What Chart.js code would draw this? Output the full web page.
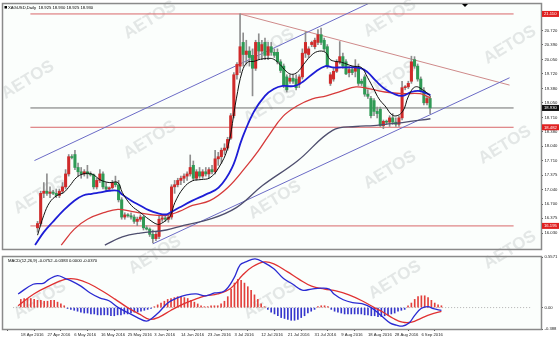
<!DOCTYPE html>
<html><head><meta charset="utf-8">
<script src="https://cdn.jsdelivr.net/npm/chart.js@4.4.1/dist/chart.umd.min.js"></script>
<style>
html,body{margin:0;padding:0;background:#fff;}
#wrap{position:relative;width:560px;height:340px;overflow:hidden;background:#fff;}
canvas{position:absolute;left:0;}
</style></head><body>
<div id="wrap">
<canvas id="main" width="560" height="253" style="top:0;width:560px;height:253px"></canvas>
<canvas id="macd" width="560" height="87" style="top:253px;width:560px;height:87px"></canvas>
</div>
<script>
// XAGUSD daily candles, bar index 0 = 18 Apr 2016
var opens  = [16.15,16.25,16.95,17.00,16.95,16.98,16.95,16.90,17.00,17.10,17.40,17.80,17.85,17.55,17.45,17.40,17.45,17.40,17.38,17.10,
              17.25,17.40,17.10,17.05,17.08,17.20,17.15,16.80,16.40,16.45,16.43,16.40,16.30,16.35,16.40,16.15,16.12,16.00,15.90,15.95,
              16.35,16.38,16.35,16.40,17.10,17.15,17.25,17.30,17.35,17.40,17.60,17.30,17.45,17.35,17.45,17.40,17.50,17.45,17.75,17.80,
              17.95,18.00,18.23,18.75,19.70,19.90,20.45,20.17,20.25,20.15,19.85,20.45,20.25,20.45,20.15,20.35,20.22,20.22,20.00,19.90,
              19.65,19.55,19.62,19.60,19.48,19.65,20.20,20.17,20.40,20.35,20.45,20.63,20.50,20.35,19.50,19.60,19.78,20.00,20.12,20.00,
              19.75,19.82,19.78,19.85,19.55,19.65,19.25,19.15,19.10,18.85,18.90,18.52,18.62,18.60,18.70,18.60,18.55,18.70,19.40,19.42,
              19.55,20.05,19.90,19.60,19.33,19.05,19.15];
var highs  = [16.30,17.00,17.20,17.40,17.10,17.02,17.05,17.05,17.20,17.50,17.85,17.85,17.95,17.65,17.55,17.50,17.60,17.45,17.40,17.30,
              17.50,17.45,17.20,17.10,17.25,17.35,17.25,16.85,16.50,16.48,16.50,16.45,16.40,16.45,16.42,16.20,16.15,16.10,16.05,16.42,
              16.45,16.45,16.45,17.15,17.25,17.30,17.35,17.40,17.45,17.84,17.70,17.50,17.55,17.50,17.55,17.55,17.60,17.95,17.90,18.00,
              18.10,18.25,18.80,19.75,19.98,21.11,20.67,20.50,20.35,20.30,20.50,20.65,20.50,20.55,20.45,20.45,20.30,20.30,20.05,19.95,
              19.70,19.70,19.70,19.70,19.70,20.30,20.70,20.35,20.48,20.55,20.75,20.78,20.55,20.40,19.75,19.85,20.05,20.47,20.20,20.05,
              19.90,19.90,20.05,19.95,19.60,19.70,19.35,19.20,19.15,18.95,18.95,18.65,18.65,18.75,18.80,18.70,18.75,19.55,19.45,19.55,
              20.13,20.12,19.95,19.65,19.40,19.20,19.20];
var lows   = [16.05,16.20,16.85,16.90,16.85,16.92,16.85,16.85,16.95,17.05,17.35,17.75,17.50,17.35,17.30,17.35,17.30,17.35,17.05,17.05,
              17.20,17.05,17.00,17.02,17.05,17.10,16.75,16.35,16.35,16.40,16.35,16.25,16.20,16.30,16.10,16.10,15.95,15.80,15.85,15.90,
              16.30,16.30,16.28,16.35,16.95,17.10,17.15,17.20,17.25,17.35,17.25,17.25,17.30,17.30,17.35,17.30,17.40,17.40,17.60,17.65,
              17.85,17.95,18.20,18.70,19.60,19.75,19.90,19.95,19.90,19.21,19.80,20.05,20.05,20.05,20.05,20.15,20.10,19.95,19.75,19.40,
              19.30,19.50,19.50,19.35,19.40,19.60,20.10,20.10,20.35,20.30,20.40,20.40,20.25,19.85,19.45,19.55,19.75,19.95,19.85,19.70,
              19.65,19.70,19.65,19.45,19.45,19.20,19.15,18.70,18.75,18.70,18.50,18.45,18.55,18.50,18.55,18.50,18.50,18.65,19.35,19.38,
              19.50,19.85,19.55,19.30,19.00,19.00,18.80];
var closes = [16.25,16.95,17.00,16.95,16.98,16.95,16.90,17.00,17.10,17.40,17.80,17.78,17.55,17.45,17.40,17.45,17.40,17.38,17.10,17.25,
              17.40,17.10,17.05,17.08,17.20,17.15,16.80,16.40,16.45,16.43,16.40,16.30,16.35,16.40,16.15,16.12,16.00,15.90,16.00,16.35,
              16.38,16.35,16.40,17.10,17.15,17.25,17.30,17.35,17.40,17.55,17.30,17.45,17.35,17.45,17.40,17.50,17.45,17.75,17.80,17.95,
              18.00,18.20,18.75,19.70,19.94,20.35,20.17,20.25,20.10,19.85,20.45,20.25,20.40,20.15,20.35,20.22,20.15,20.00,19.80,19.45,
              19.35,19.62,19.55,19.40,19.65,20.20,20.45,20.30,20.45,20.50,20.63,20.45,20.30,19.90,19.70,19.78,20.00,20.12,19.90,19.72,
              19.82,19.75,19.85,19.50,19.50,19.25,19.20,18.75,18.85,18.80,18.52,18.62,18.60,18.70,18.60,18.55,18.70,19.40,19.42,19.50,
              20.00,19.90,19.60,19.33,19.05,19.15,18.93];

// moving averages: [bar index, price]
var maBlackIdx = [0,2,3.9,6.2,8.4,10.4,12.4,14.6,17.4,20.2,23,25.8,27.2,30.1,32.9,35.7,38.5,39.9,41.3,42.7,44.1,46.9,49.7,52.5,55.3,58.1,61,63.8,65.7,67.4,69.4,71.6,74.2,75.8,77.8,79.8,81.5,83.4,85.4,87.6,89.9,92.4,93.8,95.5,97.5,101.1,103.9,105.9,107.9,109.6,111.5,114.3,117.1,119.1,121.3,124.2,126.1];
var maBlack    = [15.98,16.44,16.74,16.90,16.97,17.13,17.31,17.40,17.40,17.26,17.20,17.20,16.97,16.67,16.51,16.35,16.23,16.26,16.33,16.44,16.74,17.08,17.24,17.27,17.31,17.54,18.00,19.14,19.78,19.99,20.01,20.06,20.08,20.06,19.94,19.78,19.71,19.76,19.94,20.13,20.24,20.22,20.06,20.01,19.99,19.90,19.87,19.64,19.37,19.14,18.98,18.75,18.84,19.21,19.42,19.32,19.21];
var maBlueIdx  = [-0.8,2,4.8,8.4,11.8,14.6,17.4,20.2,23,25.8,27.2,30.1,32.9,35.7,38.5,41.3,42.7,45.5,49.7,53.9,58.1,62.4,65.7,69.4,73,75.8,78.7,82.6,85.4,89,92.4,94.7,97.5,100.3,103.9,105.9,108.7,111.5,114.3,117.1,119.9,122.8,126.1];
var maBlue     = [15.75,16.05,16.28,16.56,16.78,16.90,16.94,16.97,17.01,17.01,16.92,16.78,16.67,16.56,16.49,16.46,16.51,16.62,16.78,16.92,17.08,17.54,18.23,18.84,19.21,19.37,19.44,19.44,19.55,19.76,19.90,19.87,19.87,19.87,19.85,19.76,19.55,19.37,19.26,19.21,19.30,19.32,19.23];
var maRedIdx   = [7.6,11.8,16,21.6,25.8,30.1,35.7,41.3,45.5,49.7,55.3,61,66.6,70.8,74.2,78.7,83.4,88.2,92.7,97.5,102.2,106.7,111.5,117.1,122.8,126.1];
var maRed      = [15.75,16.12,16.35,16.51,16.58,16.53,16.46,16.44,16.53,16.67,16.78,17.08,17.54,17.93,18.29,18.73,18.98,19.14,19.21,19.32,19.42,19.37,19.30,19.26,19.26,19.16];
var maGrayIdx  = [21.6,27.2,32.9,41.3,46.9,55.3,63.8,72.2,83.4,94.7,102.2,107.9,111.5,117.1,126.1];
var maGray     = [15.75,15.94,16.03,16.10,16.21,16.35,16.62,17.13,17.70,18.41,18.50,18.52,18.55,18.59,18.68];

// drawn objects: [bar index, price]
var chanUpper = [[-1,17.71],[110,21.48]];
var chanLower = [[37,15.78],[151.5,19.63]];
var resistLine = [[65,21.11],[151.5,19.46]];
var redLevels = [21.110, 18.482, 16.195];
var bidPrice = 18.930;

// price axis ticks
var priceTicks = [20.720,20.390,20.050,19.720,19.380,19.050,18.710,18.380,18.040,17.710,17.375,17.040,16.700,16.375,16.030];

// date axis
var dateIdx = [0,8,16,24,32,40,48,56,64,72,80,88,96,104,112,120];
var dateLabels = ['18 Apr 2016','27 Apr 2016','6 May 2016','16 May 2016','25 May 2016','3 Jun 2016','14 Jun 2016','23 Jun 2016',
                  '3 Jul 2016','12 Jul 2016','21 Jul 2016','31 Jul 2016','9 Aug 2016','18 Aug 2016','28 Aug 2016','6 Sep 2016'];

// MACD(12,26,9)
var macdIdx = [-0.8,3.7,6.7,8.4,11,13.2,15.4,18,20.8,23.6,26.4,29.2,32,34.8,37.6,39.3,41.3,44.1,46.9,49.7,52.5,55.3,58.1,61,63.8,65.7,67.4,70.2,73,75.8,78.7,81.5,84.3,87.1,89.9,92.4,93.8,96.6,99.4,102.2,105,107.9,110.7,112.5,114.3,116.3,118,119.9,121.9,123.6,126];
var macdVal = [0.150,0.257,0.268,0.311,0.353,0.321,0.289,0.236,0.161,0.107,0.075,0,-0.054,-0.107,-0.150,-0.118,-0.054,0.054,0.107,0.139,0.150,0.129,0.161,0.182,0.321,0.471,0.503,0.536,0.493,0.428,0.321,0.257,0.193,0.204,0.214,0.204,0.150,0.086,0.054,0.043,0,-0.086,-0.171,-0.193,-0.204,-0.171,-0.086,-0.011,0.011,-0.011,-0.032];
var signalIdx = [-0.8,3.9,8.4,13.2,16.9,20.8,24.4,28.1,32,35.7,38.5,41.3,44.9,48.9,52.5,55.3,59,62.9,66.6,69.4,73,75.8,79.8,83.4,87.1,91,94.7,98.3,102.2,105.9,108.7,111.5,114.3,117.1,119.9,122.8,126];
var signalVal = [0.021,0.150,0.236,0.311,0.311,0.257,0.182,0.096,0,-0.075,-0.129,-0.107,-0.032,0.043,0.096,0.129,0.150,0.214,0.364,0.450,0.503,0.482,0.396,0.311,0.236,0.204,0.182,0.139,0.075,0,-0.054,-0.118,-0.161,-0.161,-0.118,-0.075,-0.043];
var histVal = [0.09,0.10,0.10,0.10,0.09,0.08,0.08,0.07,0.07,0.08,0.08,0.06,0.04,0.02,
  -0.01,-0.02,-0.03,-0.04,-0.05,-0.06,-0.06,-0.07,-0.07,-0.08,-0.08,-0.08,-0.08,-0.09,-0.09,-0.08,-0.08,-0.07,-0.07,-0.06,-0.05,-0.05,-0.04,-0.03,-0.02,
  -0.01,0.01,
  0.03,0.05,0.07,0.09,0.10,0.11,0.12,0.12,0.11,0.10,0.08,0.06,0.04,0.02,
  0.01,0.01,0.02,0.02,0.02,0.04,
  0.07,0.12,0.20,0.27,0.31,0.30,0.27,0.23,0.19,0.14,0.09,0.04,
  0.01,
  -0.02,-0.05,-0.07,-0.09,-0.11,-0.12,-0.13,-0.14,-0.14,-0.13,-0.11,-0.09,-0.06,-0.04,-0.02,
  0.01,0.02,0.02,0.01,
  -0.02,-0.04,-0.05,-0.06,-0.07,-0.07,-0.07,-0.07,-0.07,-0.07,-0.08,-0.08,-0.09,-0.09,-0.10,-0.10,-0.09,-0.08,-0.07,-0.06,-0.04,-0.03,-0.02,
  0.02,0.05,0.09,0.12,0.13,0.13,0.11,0.08,0.05,0.03,0.02];
var macdTop = 0.5571, macdBottom = -0.236;

var xMin = -0.3, xMax = 150.8;
var UP = '#d02a2a', DOWN = '#2f9a55';
var FONT = {family: 'Liberation Sans, Arial, sans-serif', size: 4.2};

function pts(ix, vals) { return ix.map(function (x, k) { return {x: x, y: vals[k]}; }); }
function seg(p) { return p.map(function (q) { return {x: q[0], y: q[1]}; }); }

var wickData = highs.map(function (h, i) { return {x: i, y: [lows[i], h]}; });
var bodyData = opens.map(function (o, i) { return {x: i, y: [o, closes[i]]}; });
var bodyCol = opens.map(function (o, i) { return closes[i] >= o ? UP : DOWN; });

var wmarks = [[28,80],[150,20],[268,48],[390,18],[510,45],[150,140],[270,105],[390,80],[505,145],[40,195],[155,255],[275,200],[390,170],[510,250],[40,300],[270,300],[395,280]];
var watermark = {
  id: 'watermark',
  beforeDatasetsDraw: function (chart, args, opt) {
    var ctx = chart.ctx;
    ctx.save();
    ctx.font = 'bold 17px "Liberation Sans", Arial, sans-serif';
    ctx.fillStyle = 'rgba(190,195,195,0.38)';
    ctx.textAlign = 'center'; ctx.textBaseline = 'middle';
    wmarks.forEach(function (w) {
      ctx.save();
      ctx.translate(w[0], w[1] - opt.top);
      ctx.rotate(-0.55);
      ctx.fillText('AETOS', 0, 0);
      ctx.restore();
    });
    ctx.restore();
  }
};

var frame = {
  id: 'frame',
  beforeDraw: function (chart) {
    var a = chart.chartArea, ctx = chart.ctx;
    ctx.save();
    ctx.fillStyle = '#fbfefc';
    ctx.fillRect(a.left, a.top, a.right - a.left, a.bottom - a.top);
    ctx.restore();
  },
  afterDraw: function (chart, args, opt) {
    var a = chart.chartArea, ctx = chart.ctx;
    ctx.save();
    ctx.strokeStyle = '#8a8a8a';
    ctx.lineWidth = 1.5;
    ctx.strokeRect(a.left - 0.5, a.top - 0.5, a.right - a.left + 1, a.bottom - a.top + 1);
    ctx.fillStyle = '#000';
    ctx.font = '4.2px "Liberation Sans", Arial, sans-serif';
    ctx.textBaseline = 'top';
    ctx.fillText(opt.title, a.left + 5, a.top + 1.5);
    if (opt.main) {
      ctx.fillRect(a.left + 1.5, a.top + 2, 2.5, 2.5);
      // chart shift marker
      ctx.beginPath();
      ctx.moveTo(462, a.top); ctx.lineTo(468, a.top); ctx.lineTo(465, a.top + 3); ctx.closePath(); ctx.fill();
    }
    ctx.restore();
  }
};

var priceTags = {
  id: 'priceTags',
  afterDraw: function (chart) {
    var y = chart.scales.y, a = chart.chartArea, ctx = chart.ctx;
    ctx.save();
    ctx.font = '4.2px "Liberation Sans", Arial, sans-serif';
    ctx.textBaseline = 'middle';
    function tag(v, bg) {
      var py = y.getPixelForValue(v);
      ctx.fillStyle = bg;
      ctx.fillRect(a.right + 1, py - 3, 17, 6);
      ctx.fillStyle = '#fff';
      ctx.fillText(v.toFixed(3), a.right + 3, py + 0.3);
    }
    redLevels.forEach(function (v) { tag(v, '#e02020'); });
    tag(bidPrice, '#111');
    ctx.restore();
  }
};

function hline(v, col) {
  return {type: 'line', data: [{x: xMin - 2, y: v}, {x: xMax + 2, y: v}], borderColor: col, borderWidth: 1, pointRadius: 0, order: 8};
}

new Chart(document.getElementById('main'), {
  type: 'bar',
  data: {
    datasets: [
      hline(redLevels[0], '#d9676a'), hline(redLevels[1], '#d9676a'), hline(redLevels[2], '#d9676a'), hline(bidPrice, '#6e6e6e'),
      {type: 'line', data: seg(chanUpper), borderColor: '#6b6bc6', borderWidth: 1, pointRadius: 0, order: 7},
      {type: 'line', data: seg(chanLower), borderColor: '#6b6bc6', borderWidth: 1, pointRadius: 0, order: 7},
      {type: 'line', data: seg(resistLine), borderColor: '#cf8a8a', borderWidth: 1, pointRadius: 0, order: 7},
      {data: wickData, backgroundColor: '#8e8e8e', barThickness: 1, grouped: false, order: 6},
      {data: bodyData, backgroundColor: bodyCol, barThickness: 2.4, minBarLength: 1, grouped: false, order: 5},
      {type: 'line', data: pts(maGrayIdx, maGray), borderColor: '#4e4e6e', borderWidth: 1.3, pointRadius: 0, tension: 0.4, order: 4},
      {type: 'line', data: pts(maRedIdx, maRed), borderColor: '#d63a3a', borderWidth: 1.3, pointRadius: 0, tension: 0.4, order: 3},
      {type: 'line', data: pts(maBlueIdx, maBlue), borderColor: '#1d1dd6', borderWidth: 1.8, pointRadius: 0, tension: 0.4, order: 2},
      {type: 'line', data: pts(maBlackIdx, maBlack), borderColor: '#111', borderWidth: 1, pointRadius: 0, tension: 0.4, order: 1}
    ]
  },
  options: {
    responsive: false, animation: false, devicePixelRatio: 1,
    layout: {padding: {left: 3, top: 4, right: 0, bottom: 1}},
    plugins: {legend: {display: false}, tooltip: {enabled: false},
      frame: {title: 'XAGUSD,Daily  18.925 18.930 18.925 18.930', main: true},
      watermark: {top: 0}},
    scales: {
      x: {type: 'linear', display: false, min: xMin, max: xMax},
      y: {
        position: 'right', min: 15.66, max: 21.34,
        afterBuildTicks: function (s) { s.ticks = priceTicks.map(function (v) { return {value: v}; }); },
        afterFit: function (s) { s.width = 19; },
        ticks: {font: FONT, color: '#222', padding: 1.5, callback: function (v) { return v.toFixed(3); }},
        grid: {drawOnChartArea: false, tickLength: 2, color: '#555'},
        border: {color: '#8a8a8a'}
      }
    }
  },
  plugins: [frame, watermark, priceTags]
});

var histData = histVal.map(function (v, i) { return {x: i, y: v}; });
new Chart(document.getElementById('macd'), {
  type: 'bar',
  data: {
    datasets: [
      {type: 'line', data: [{x: xMin - 2, y: 0}, {x: xMax + 2, y: 0}], borderColor: '#b0b0b0', borderWidth: 1, borderDash: [1, 2], pointRadius: 0, order: 5},
      {data: histData, backgroundColor: histVal.map(function (v) { return v >= 0 ? '#e2403c' : '#3636cc'; }), barThickness: 1, grouped: false, order: 4},
      {type: 'line', data: pts(signalIdx, signalVal), borderColor: '#e03232', borderWidth: 1.3, pointRadius: 0, tension: 0.4, order: 2},
      {type: 'line', data: pts(macdIdx, macdVal), borderColor: '#2a2ad2', borderWidth: 1.3, pointRadius: 0, tension: 0.4, order: 1}
    ]
  },
  options: {
    responsive: false, animation: false, devicePixelRatio: 1,
    layout: {padding: {left: 3, top: 2, right: 0, bottom: 0}},
    plugins: {legend: {display: false}, tooltip: {enabled: false},
      frame: {title: 'MACD(12,26,9) -0.0752 -0.0383 0.0000 -0.0370', main: false},
      watermark: {top: 253}},
    scales: {
      x: {
        type: 'linear', min: xMin, max: xMax,
        afterBuildTicks: function (s) { s.ticks = dateIdx.map(function (v) { return {value: v}; }); },
        afterFit: function (s) { s.height = 11; },
        ticks: {font: FONT, color: '#222', align: 'start', maxRotation: 0, autoSkip: false, padding: 1,
          callback: function (v) { return dateLabels[dateIdx.indexOf(v)]; }},
        grid: {drawOnChartArea: false, tickLength: 2, color: '#555'},
        border: {color: '#8a8a8a'}
      },
      y: {
        position: 'right', min: macdBottom, max: macdTop,
        afterBuildTicks: function (s) { s.ticks = [{value: macdTop}, {value: 0}, {value: macdBottom}]; },
        afterFit: function (s) { s.width = 19; },
        ticks: {font: FONT, color: '#222', padding: 1.5,
          callback: function (v) { return v === 0 ? '0.00' : (v === macdTop ? '0.5571' : '-0.388'); }},
        grid: {drawOnChartArea: false, tickLength: 2, color: '#555'},
        border: {color: '#8a8a8a'}
      }
    }
  },
  plugins: [frame, watermark]
});
</script>
</body></html>
